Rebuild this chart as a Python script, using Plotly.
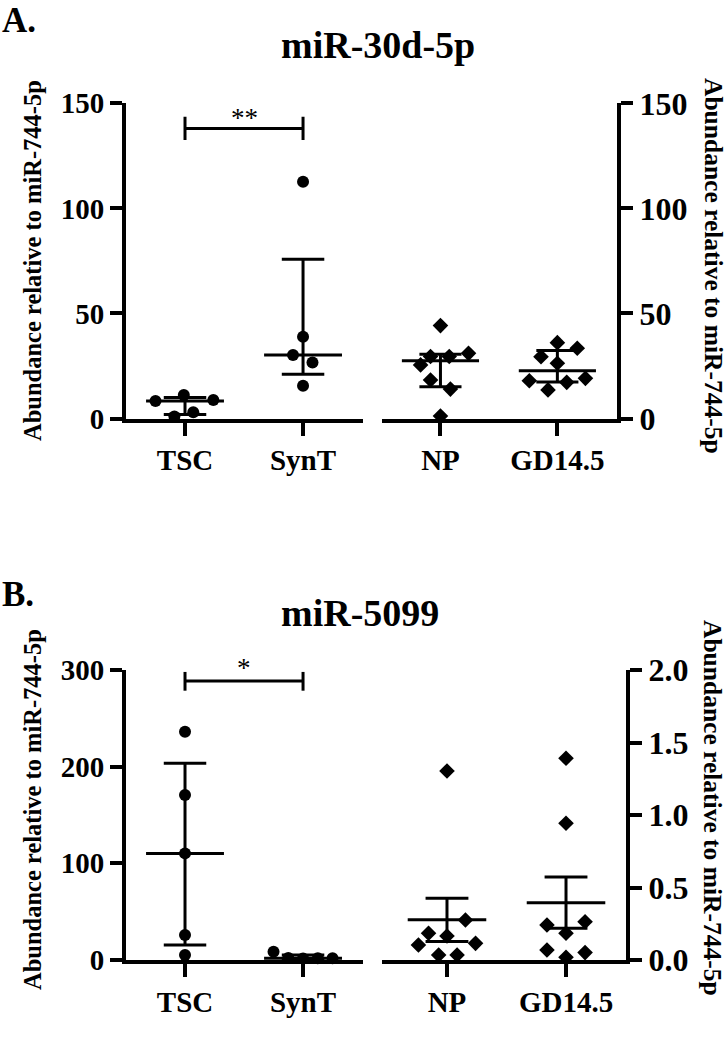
import numpy as np
import plotly.graph_objects as go

W, H = 728, 1048
FONT = "Liberation Serif"

# ---------------- data ----------------
left_groups = ["TSC", "SynT"]
right_groups = ["NP", "GD14.5"]

# Panel A: miR-30d-5p
a_tsc = [8.3, 11.2, 8.8, 0.9, 3.0]
a_synt = [112.7, 38.9, 30.2, 26.6, 15.6]
a_np = [44.2, 31.0, 29.5, 29.5, 25.5, 18.3, 14.0, 1.2]
a_gd = [36.1, 33.4, 29.4, 26.3, 18.0, 19.1, 17.2, 13.6]

# Panel B: miR-5099
b_tsc = [236.2, 170.7, 110.3, 25.9, 5.2]
b_synt = [8.6, 2.0, 1.5, 1.8, 1.9]
b_np = [1.303, 0.276, 0.184, 0.166, 0.103, 0.115, 0.034, 0.034]
b_gd = [1.391, 0.943, 0.241, 0.264, 0.184, 0.069, 0.051, 0.019]

a_left_ticks = [0, 50, 100, 150]
a_right_ticks = [0, 50, 100, 150]
b_left_ticks = [0, 100, 200, 300]
b_right_ticks = [0.0, 0.5, 1.0, 1.5, 2.0]
b_right_ticklabels = ["0.0", "0.5", "1.0", "1.5", "2.0"]

titles = ["miR-30d-5p", "miR-5099"]
panel_labels = ["A.", "B."]
y_title = "Abundance relative to miR-744-5p"
sig_a = "**"
sig_b = "*"

# ---------------- positions / styles (jitter in category units) ----------------
j_a_tsc = [-0.25, -0.01, 0.24, -0.09, 0.07]
j_a_synt = [0, 0, -0.085, 0.08, 0]
j_a_np = [0, 0.24, -0.085, 0.075, -0.17, -0.085, 0.085, 0]
j_a_gd = [0, 0.17, -0.14, 0, -0.24, 0.24, 0.08, -0.08]
j_b_tsc = [0, 0, 0, 0, 0]
j_b_synt = [-0.25, -0.125, 0, 0.125, 0.25]
j_b_np = [0, 0.155, -0.155, 0, -0.24, 0.24, -0.07, 0.085]
j_b_gd = [0, 0, -0.16, 0.16, 0, -0.16, 0.16, 0]

CENTER_HALF = 0.33
CAP_HALF = 0.18
LW = 3

fig = go.Figure()


def px_x(p):
    return p / W


def px_y(p):
    return 1 - p / H


def add_points(vals, jit, cat, xa, ya, symbol):
    fig.add_trace(go.Scatter(
        x=[cat + j for j in jit], y=vals, mode="markers",
        marker=dict(symbol=symbol, size=12, color="black", line=dict(width=0)),
        xaxis=xa, yaxis=ya, cliponaxis=False, showlegend=False, hoverinfo="y"))


def add_stat(center, lo, hi, cat, xa, ya):
    line = dict(color="black", width=LW)
    for xs, ys in [
        ([cat - CENTER_HALF, cat + CENTER_HALF], [center, center]),
        ([cat - CAP_HALF, cat + CAP_HALF], [lo, lo]),
        ([cat - CAP_HALF, cat + CAP_HALF], [hi, hi]),
        ([cat, cat], [lo, hi]),
    ]:
        fig.add_trace(go.Scatter(x=xs, y=ys, mode="lines", line=line,
                                 xaxis=xa, yaxis=ya, cliponaxis=False,
                                 showlegend=False, hoverinfo="skip"))


def med_iqr(v):
    a = np.array(v, dtype=float)
    return (float(np.median(a)),
            float(np.percentile(a, 25, method="weibull")),
            float(np.percentile(a, 75, method="weibull")))


def mean_sem(v):
    a = np.array(v, dtype=float)
    m = a.mean()
    s = a.std(ddof=1) / np.sqrt(len(a))
    return float(m), float(m - s), float(m + s)


# Panel A
for i, (vals, jit) in enumerate([(a_tsc, j_a_tsc), (a_synt, j_a_synt)]):
    add_stat(*med_iqr(vals), i, "x", "y")
    add_points(vals, jit, i, "x", "y", "circle")
for i, (vals, jit) in enumerate([(a_np, j_a_np), (a_gd, j_a_gd)]):
    add_stat(*med_iqr(vals), i, "x2", "y2")
    add_points(vals, jit, i, "x2", "y2", "diamond")

# Panel B
for i, (vals, jit) in enumerate([(b_tsc, j_b_tsc), (b_synt, j_b_synt)]):
    add_stat(*med_iqr(vals), i, "x3", "y3")
    add_points(vals, jit, i, "x3", "y3", "circle")
for i, (vals, jit) in enumerate([(b_np, j_b_np), (b_gd, j_b_gd)]):
    add_stat(*mean_sem(vals), i, "x4", "y4")
    add_points(vals, jit, i, "x4", "y4", "diamond")


# significance brackets
def bracket(xref, yref, ymid, ylo, yhi):
    ln = dict(color="black", width=LW)
    fig.add_shape(type="line", xref=xref, yref=yref, x0=0, x1=1, y0=ymid, y1=ymid, line=ln)
    fig.add_shape(type="line", xref=xref, yref=yref, x0=0, x1=0, y0=ylo, y1=yhi, line=ln)
    fig.add_shape(type="line", xref=xref, yref=yref, x0=1, x1=1, y0=ylo, y1=yhi, line=ln)


bracket("x", "y", 138, 132.5, 143.6)
bracket("x3", "y3", 288.6, 278.6, 298)
fig.add_annotation(x=0.5, y=138, xref="x", yref="y", text=sig_a, showarrow=False,
                   yanchor="bottom", yshift=-6,
                   font=dict(family=FONT, size=27, color="black"))
fig.add_annotation(x=0.5, y=288.6, xref="x3", yref="y3", text=sig_b, showarrow=False,
                   yanchor="bottom", yshift=-4,
                   font=dict(family=FONT, size=27, color="black"))

# axes
tick_font_l = dict(family=FONT, size=29, color="black", weight="bold")
tick_font_r = dict(family=FONT, size=32, color="black", weight="bold")
common_x = dict(showline=True, linecolor="black", linewidth=4, ticks="outside",
                ticklen=13, tickwidth=4, tickcolor="black", showgrid=False,
                zeroline=False, tickfont=tick_font_l, tickvals=[0, 1], fixedrange=True,
                automargin=False)
common_y = dict(showline=True, linecolor="black", linewidth=4, ticks="outside",
                ticklen=12, tickwidth=4, tickcolor="black", showgrid=False,
                zeroline=False, fixedrange=True, automargin=False)

top_dom = [px_y(418.5), px_y(103.3)]
bot_dom = [px_y(960), px_y(670)]
xl_dom = [px_x(126), px_x(363)]
xr_dom_a = [px_x(382), px_x(617)]
xr_dom_b = [px_x(382), px_x(626)]

fig.update_layout(
    template="none",
    width=W, height=H, autosize=False, plot_bgcolor="white", paper_bgcolor="white",
    margin=dict(l=0, r=0, t=0, b=0, pad=0),
    xaxis=dict(domain=xl_dom, range=[-0.5, 1.508], anchor="y", ticktext=left_groups, **common_x),
    yaxis=dict(domain=top_dom, range=[0, 150], anchor="x", tickvals=a_left_ticks,
               tickfont=tick_font_l, **common_y),
    xaxis2=dict(domain=xr_dom_a, range=[-0.5, 1.51], anchor="y2", ticktext=right_groups, **common_x),
    yaxis2=dict(domain=top_dom, range=[0, 150], anchor="x2", side="right",
                tickvals=a_right_ticks, tickfont=tick_font_r, **common_y),
    xaxis3=dict(domain=xl_dom, range=[-0.5, 1.508], anchor="y3", ticktext=left_groups, **common_x),
    yaxis3=dict(domain=bot_dom, range=[0, 300], anchor="x3", tickvals=b_left_ticks,
                tickfont=tick_font_l, **common_y),
    xaxis4=dict(domain=xr_dom_b, range=[-0.546, 1.504], anchor="y4", ticktext=right_groups, **common_x),
    yaxis4=dict(domain=bot_dom, range=[0, 2], anchor="x4", side="right",
                tickvals=b_right_ticks, ticktext=b_right_ticklabels,
                tickfont=tick_font_r, **common_y),
)


# titles / labels
def txt(x, y, s, size, angle=0, xanchor="center", yanchor="middle"):
    fig.add_annotation(x=px_x(x), y=px_y(y), xref="paper", yref="paper", text=s,
                       showarrow=False, textangle=angle, xanchor=xanchor, yanchor=yanchor,
                       borderpad=0,
                       font=dict(family=FONT, size=size, color="black", weight="bold"))


txt(1, 0, panel_labels[0], 35, xanchor="left", yanchor="top")
txt(1, 594, panel_labels[1], 35, xanchor="left")
txt(280, 45, titles[0], 38, xanchor="left")
txt(280, 613, titles[1], 38, xanchor="left")
txt(32, 261, y_title, 24.5, angle=-90)
txt(713, 266, y_title, 25.5, angle=90)
txt(32, 810, y_title, 24.5, angle=-90)
txt(713, 808, y_title, 25.5, angle=90)

fig.write_html(
    "out.html",
    config={"displayModeBar": False},
    post_script="document.body.style.margin='0';document.body.style.overflow='hidden';",
)
